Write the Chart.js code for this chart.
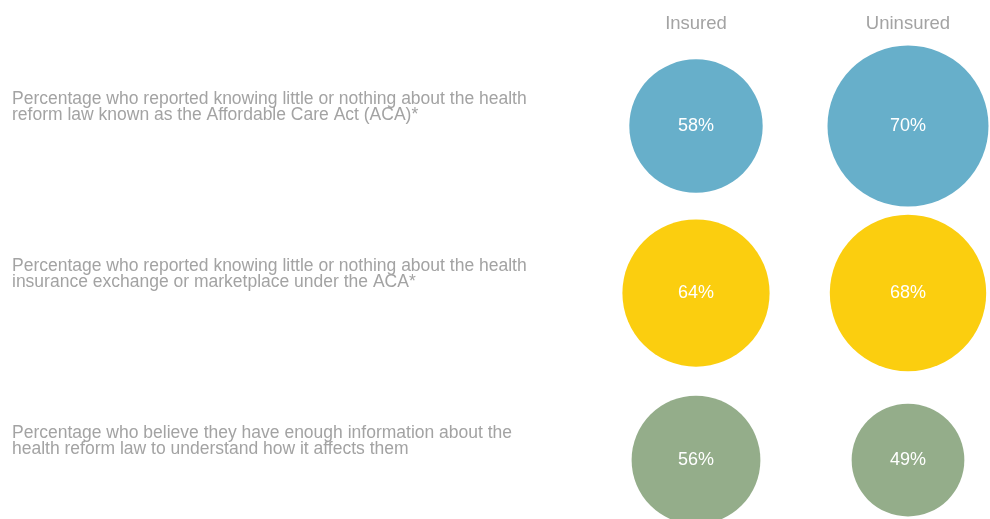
<!DOCTYPE html>
<html>
<head>
<meta charset="utf-8">
<script src="https://cdn.jsdelivr.net/npm/chart.js@4.4.1/dist/chart.umd.min.js"></script>
<style>
  html, body { margin: 0; padding: 0; background: #ffffff; }
  #wrap { width: 990px; height: 519px; position: relative; }
</style>
</head>
<body>
<div id="wrap"><canvas id="bubbles"></canvas></div>
<script>
// columns along the top
const columns = ["Insured", "Uninsured"];

// one question per row, split into the lines shown
const questions = [
  ["Percentage who reported knowing little or nothing about the health",
   "reform law known as the Affordable Care Act (ACA)*"],
  ["Percentage who reported knowing little or nothing about the health",
   "insurance exchange or marketplace under the ACA*"],
  ["Percentage who believe they have enough information about the",
   "health reform law to understand how it affects them"]
];

// percentages
const insured = [58, 64, 56];
const uninsured = [70, 68, 49];

// one colour per question row
const rowColors = ["#67afca", "#fbce0f", "#94ad8a"];

const FONT = "'Liberation Sans', Arial, sans-serif";
const radiusPerPoint = 1.15; // px of radius for every percentage point

function toPoints(values, col) {
  return values.map(function (v, i) {
    return { x: col, y: i, r: v * radiusPerPoint, v: v };
  });
}

// writes the percentage in the middle of every bubble
const valueLabels = {
  id: "valueLabels",
  afterDatasetsDraw: function (chart) {
    const ctx = chart.ctx;
    ctx.save();
    ctx.fillStyle = "#ffffff";
    ctx.font = "18px " + FONT;
    ctx.textAlign = "center";
    ctx.textBaseline = "middle";
    chart.data.datasets.forEach(function (ds, di) {
      chart.getDatasetMeta(di).data.forEach(function (el, i) {
        ctx.fillText(ds.data[i].v + "%", el.x, el.y);
      });
    });
    ctx.restore();
  }
};

new Chart(document.getElementById("bubbles"), {
  type: "bubble",
  data: {
    datasets: [
      {
        label: columns[0],
        data: toPoints(insured, 0),
        backgroundColor: rowColors,
        borderWidth: 0,
        hoverBorderWidth: 0,
        clip: false
      },
      {
        label: columns[1],
        data: toPoints(uninsured, 1),
        backgroundColor: rowColors,
        borderWidth: 0,
        hoverBorderWidth: 0,
        clip: false
      }
    ]
  },
  options: {
    responsive: true,
    maintainAspectRatio: false,
    animation: false,
    layout: { autoPadding: false, padding: { left: 12, top: 0, right: 0, bottom: 0 } },
    scales: {
      x: {
        type: "linear",
        position: "top",
        min: -0.6415,
        max: 1.3868,
        afterBuildTicks: function (scale) {
          scale.ticks = columns.map(function (c, i) { return { value: i }; });
        },
        afterFit: function (scale) {
          scale.height = 40;
          scale.paddingLeft = 0;
          scale.paddingRight = 0;
        },
        grid: { display: false, drawTicks: false },
        border: { display: false },
        ticks: {
          padding: 5,
          color: "#a3a3a3",
          font: { family: FONT, size: 18.5 },
          callback: function (value) { return columns[value]; }
        }
      },
      y: {
        type: "linear",
        reverse: true,
        min: -0.515,
        max: 2.353,
        afterBuildTicks: function (scale) {
          scale.ticks = questions.map(function (q, i) { return { value: i }; });
        },
        afterFit: function (scale) {
          scale.width = 548;
          scale.paddingTop = 0;
          scale.paddingBottom = 0;
        },
        grid: { display: false, drawTicks: false },
        border: { display: false },
        ticks: {
          crossAlign: "far",
          labelOffset: -19,
          color: "#a3a3a3",
          font: { family: FONT, size: 17.5, lineHeight: "16.5px" },
          callback: function (value) { return questions[value]; }
        }
      }
    },
    plugins: {
      legend: { display: false },
      tooltip: { enabled: false }
    }
  },
  plugins: [valueLabels]
});
</script>
</body>
</html>
